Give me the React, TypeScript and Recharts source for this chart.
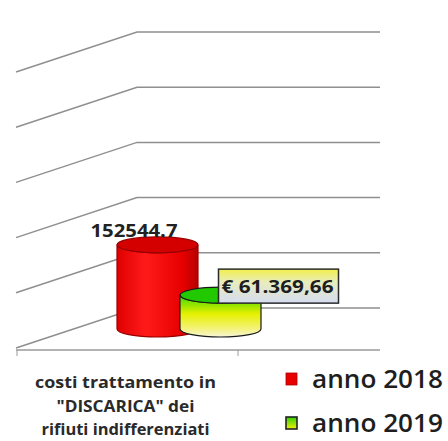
import { BarChart, Bar, XAxis, YAxis, CartesianGrid, ReferenceLine, LabelList, Legend } from "recharts";

// data
const categories = ['costi trattamento in "DISCARICA" dei rifiuti indifferenziati'];
const categoryLines = ["costi  trattamento in", "\"DISCARICA\" dei", "rifiuti indifferenziati"];
const seriesNames = ["anno 2018", "anno 2019"];
const values2018 = [152544.7];
const values2019 = [61369.66];
const labels2018 = ["152544.7"];
const labels2019 = ["€ 61.369,66"];
const yTicks = [0, 100000, 200000, 300000, 400000, 500000];

const data = categories.map((name, i) => ({
  name,
  y2018: values2018[i],
  y2019: values2019[i],
  l2018: labels2018[i],
  l2019: labels2019[i],
}));

// fake 3D: side wall goes down-left, bars sit in front of the back wall
const SX = -121;
const SY = 40;
const DX = -70;
const DY = 21;
const FONT = "'Open Sans', 'DejaVu Sans', sans-serif";

const gridLine = (p: any) => (
  <path
    key={`grid-${p.index}`}
    d={`M${p.x1 + SX},${p.y1 + SY} L${p.x1},${p.y1} L${p.x2},${p.y2}`}
    stroke="#8f8f8f"
    strokeWidth={1.5}
    fill="none"
  />
);

const floorLine = (p: any) => {
  const fy = p.y1 + SY + 2;
  return (
    <g>
      <path d={`M${p.x1 + SX},${fy} L${p.x2},${fy}`} stroke="#9a9a9a" strokeWidth={1.5} fill="none" />
      <path d={`M${p.x1 + SX + 1},${fy} v6 M${p.x1 + 101},${fy} v6`} stroke="#9a9a9a" strokeWidth={1} />
    </g>
  );
};

const makeCylinder = (bodyFill: string, topFill: string, stroke: string) => (p: any) => {
  const { x, y, width, height } = p;
  const cx = x + width / 2 + DX;
  const rx = 40.5;
  const ry = 8;
  const top = y + DY;
  const bot = y + height + DY;
  return (
    <g>
      <path
        d={`M${cx - rx},${top} L${cx - rx},${bot} A${rx},${ry} 0 0 0 ${cx + rx},${bot} L${cx + rx},${top} A${rx},${ry} 0 0 1 ${cx - rx},${top} Z`}
        fill={bodyFill}
        stroke={stroke}
        strokeWidth={1.2}
      />
      <ellipse cx={cx} cy={top} rx={rx} ry={ry} fill={topFill} stroke={stroke} strokeWidth={1.2} />
    </g>
  );
};

const label2018 = (p: any) => {
  const cx = p.x + p.width / 2;
  return (
    <text x={cx - 137} y={p.y + 13} fontFamily={FONT} fontWeight={700} fontSize={18} fill="#222" textLength={87} lengthAdjust="spacingAndGlyphs">
      {p.value}
    </text>
  );
};

const label2019 = (p: any) => {
  const cx = p.x + p.width / 2;
  return (
    <g>
      <rect x={cx - 72} y={p.y - 5} width={120} height={34} fill="url(#boxGrad)" stroke="#2a2a2a" strokeWidth={1.5} />
      <text x={cx - 69} y={p.y + 19} fontFamily={FONT} fontWeight={700} fontSize={18} fill="#1e1e1e" textLength={112} lengthAdjust="spacingAndGlyphs">
        {p.value}
      </text>
    </g>
  );
};

const lineWidths = [181, 138, 168];
const CategoryTick = (p: any) => {
  const cx = p.x - 133;
  return (
    <g>
      {categoryLines.map((line, i) => (
        <text
          key={line}
          x={cx}
          y={p.y + 72 + i * 23.5}
          textAnchor="middle"
          fontFamily={FONT}
          fontWeight={700}
          fontSize={16}
          fill="#2a2a2a"
          textLength={lineWidths[i]}
          lengthAdjust="spacingAndGlyphs"
        >
          {line}
        </text>
      ))}
    </g>
  );
};

const swatches = ["#e80000", "url(#legendGrad)"];
const renderLegend = () => (
  <svg width={168} height={85} style={{ overflow: "visible", display: "block" }}>
    <defs>
      <linearGradient id="legendGrad" x1="0" y1="0" x2="0" y2="1">
        <stop offset="0" stopColor="#30d000" />
        <stop offset="1" stopColor="#f0f000" />
      </linearGradient>
    </defs>
    {seriesNames.map((n, i) => (
      <g key={n}>
        <rect x={6} y={18 + i * 44} width={11} height={12} fill={swatches[i]} stroke={i === 1 ? "#222" : "#b00000"} strokeWidth={i === 1 ? 1.6 : 0.8} />
        <text x={32} y={33 + i * 44} fontFamily={FONT} fontWeight={600} fontSize={25} fill="#1e1e1e" textLength={131} lengthAdjust="spacingAndGlyphs">
          {n}
        </text>
      </g>
    ))}
  </svg>
);

export default function App() {
  return (
    <div style={{ position: "absolute", left: 0, top: 0, width: 448, height: 441, background: "#fff" }}>
      <BarChart
        width={448}
        height={441}
        data={data}
        margin={{ top: 32, right: 68, bottom: 18, left: 137 }}
        barSize={63}
        barGap={0}
      >
        <defs>
          <linearGradient id="redBody" x1="0" y1="0" x2="1" y2="0">
            <stop offset="0" stopColor="#e00000" />
            <stop offset="0.35" stopColor="#ff1a1a" />
            <stop offset="0.8" stopColor="#e80000" />
            <stop offset="1" stopColor="#b80000" />
          </linearGradient>
          <linearGradient id="greenBody" x1="0" y1="0" x2="0" y2="1">
            <stop offset="0" stopColor="#3cd800" />
            <stop offset="0.45" stopColor="#e6f000" />
            <stop offset="0.8" stopColor="#f4f27a" />
            <stop offset="1" stopColor="#f8f6d8" />
          </linearGradient>
          <linearGradient id="boxGrad" x1="0" y1="0" x2="0" y2="1">
            <stop offset="0" stopColor="#f2f04a" />
            <stop offset="0.4" stopColor="#e8ecc0" />
            <stop offset="1" stopColor="#d4dcf0" />
          </linearGradient>
        </defs>
        <CartesianGrid horizontal={gridLine} vertical={false} />
        <XAxis dataKey="name" axisLine={false} tickLine={false} tick={<CategoryTick />} interval={0} height={30} />
        <YAxis hide domain={[0, 500000]} ticks={yTicks} />
        <ReferenceLine y={0} shape={floorLine} ifOverflow="visible" />
        <Bar dataKey="y2018" shape={makeCylinder("url(#redBody)", "#d40000", "#9a0000")} isAnimationActive={false}>
          <LabelList dataKey="l2018" content={label2018} />
        </Bar>
        <Bar dataKey="y2019" shape={makeCylinder("url(#greenBody)", "#22c800", "#1a1a1a")} isAnimationActive={false}>
          <LabelList dataKey="l2019" content={label2019} />
        </Bar>
        <Legend content={renderLegend} wrapperStyle={{ position: "absolute", left: 280, top: 355, width: 168, height: 85 }} />
      </BarChart>
    </div>
  );
}
